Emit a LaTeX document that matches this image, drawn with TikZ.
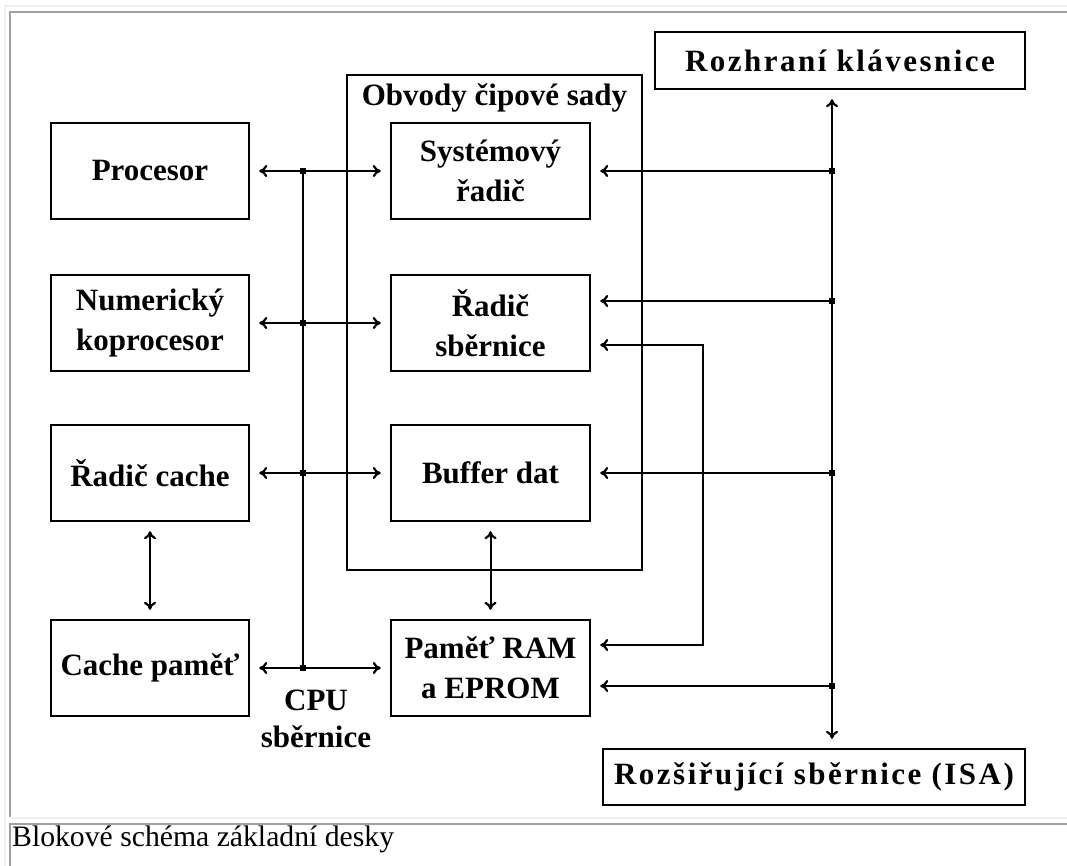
\documentclass[tikz,border=0pt]{standalone}
\usepackage{fontspec}
\setmainfont{Liberation Serif}
\newfontfamily\widebold[LetterSpace=8]{Liberation Serif}
\usetikzlibrary{arrows.meta,calc}
\definecolor{framelight}{HTML}{F0F0F0}
\definecolor{framegray}{HTML}{A0A0A0}
\begin{document}
\begin{tikzpicture}[x=1pt,y=-1pt,
  block/.style={draw, line width=2.4pt, inner sep=0pt, align=center,
    font=\fontsize{31}{40}\selectfont\bfseries},
  wideblock/.style={block, font=\fontsize{31}{40}\selectfont\widebold\bfseries},
  leftblock/.style={block, minimum width=198pt, minimum height=96pt},
  midblock/.style={block, minimum width=199pt, minimum height=96pt},
  label/.style={inner sep=0pt, align=center, font=\fontsize{31}{37}\selectfont\bfseries},
  dot/.style={fill, rectangle, minimum size=6pt, inner sep=0pt},
  wire/.style={line width=2pt},
  tipshape/.tip={Computer Modern Rightarrow[length=8pt, width=12pt, line width=2.2pt]},
  toarrow/.style={wire, -tipshape, shorten >=9pt},
  biarrow/.style={wire, tipshape-tipshape, shorten <=9pt, shorten >=9pt},
]
\useasboundingbox (0,0) rectangle (1067,866);
\fill[white] (0,0) rectangle (1067,866);

% table frame
\draw[framelight, line width=2pt] (5,866) -- (5,6) -- (1067,6);
\draw[framegray, line width=2pt] (10,817) -- (10,12) -- (1067,12);
\draw[framelight, line width=2pt] (11,818) -- (1067,818);
\draw[framegray, line width=2pt] (10,866) -- (10,824) -- (1067,824);

% chipset frame
\node[draw, line width=2.4pt, minimum width=295pt, minimum height=495pt, inner sep=0pt]
  (chipset) at (494.5,322.5) {};
\node[label] (chiptitle) at ($(chipset.north)+(0,24)$) {Obvody čipové sady};

% left column
\node[leftblock] (proc)  at (150,171) {Procesor};
\node[leftblock] (numk)  at (150,323) {Numerický\\koprocesor};
\node[leftblock] (rcache) at (150,473) {Řadič cache};
\node[leftblock] (cmem)  at (150,668) {Cache paměť};

% middle column
\node[midblock] (sysr) at (490.5,171) {Systémový\\řadič};
\node[midblock] (rsb)  at (490.5,323) {Řadič\\sběrnice};
\node[midblock] (buf)  at (490.5,473) {Buffer dat};
\node[midblock] (ram)  at (490.5,668) {Paměť RAM\\a EPROM};

% right side
\node[wideblock, minimum width=370pt, minimum height=57pt] (kbd) at (840,60.5) {Rozhraní klávesnice};
\node[wideblock, minimum width=422pt, minimum height=56pt] (isa) at (814,777) {Rozšiřující sběrnice (ISA)};

% CPU bus
\node[dot] (c1) at (303,171) {};
\node[dot] (c2) at (303,323) {};
\node[dot] (c3) at (303,473) {};
\node[dot] (c4) at (303,668) {};
\draw[wire] (c1.center) -- (c4.center);
\draw[biarrow] (proc.east) -- (sysr.west);
\draw[biarrow] (numk.east) -- (rsb.west);
\draw[biarrow] (rcache.east) -- (buf.west);
\draw[biarrow] (cmem.east) -- (ram.west);
\node[label] (cpulbl) at (316,719) {CPU\\sběrnice};

% cache link and buffer link
\draw[biarrow] (rcache.south) -- (cmem.north);
\draw[biarrow] (buf.south) -- (ram.north);

% ISA bus
\node[dot] (d1) at (832,171) {};
\node[dot] (d2) at (832,301) {};
\node[dot] (d3) at (832,473) {};
\node[dot] (d4) at (832,686) {};
\draw[biarrow] (kbd.south -| d1) -- (isa.north -| d1);
\draw[toarrow] (d1.center) -- (sysr.east);
\draw[toarrow] (d2.center) -- (d2 -| rsb.east);
\draw[toarrow] (d3.center) -- (buf.east);
\draw[toarrow] (d4.center) -- (d4 -| ram.east);

% bus controller to memory
\coordinate (lpa) at (703,345);
\coordinate (lpb) at (703,645);
\draw[biarrow] (lpa -| rsb.east) -- (lpa) -- (lpb) -- (lpb -| ram.east);

% caption
\node[anchor=base west, inner sep=0pt, font=\fontsize{29.7}{34}\selectfont] (caption)
  at (12,846) {Blokové schéma základní desky};
\end{tikzpicture}
\end{document}
